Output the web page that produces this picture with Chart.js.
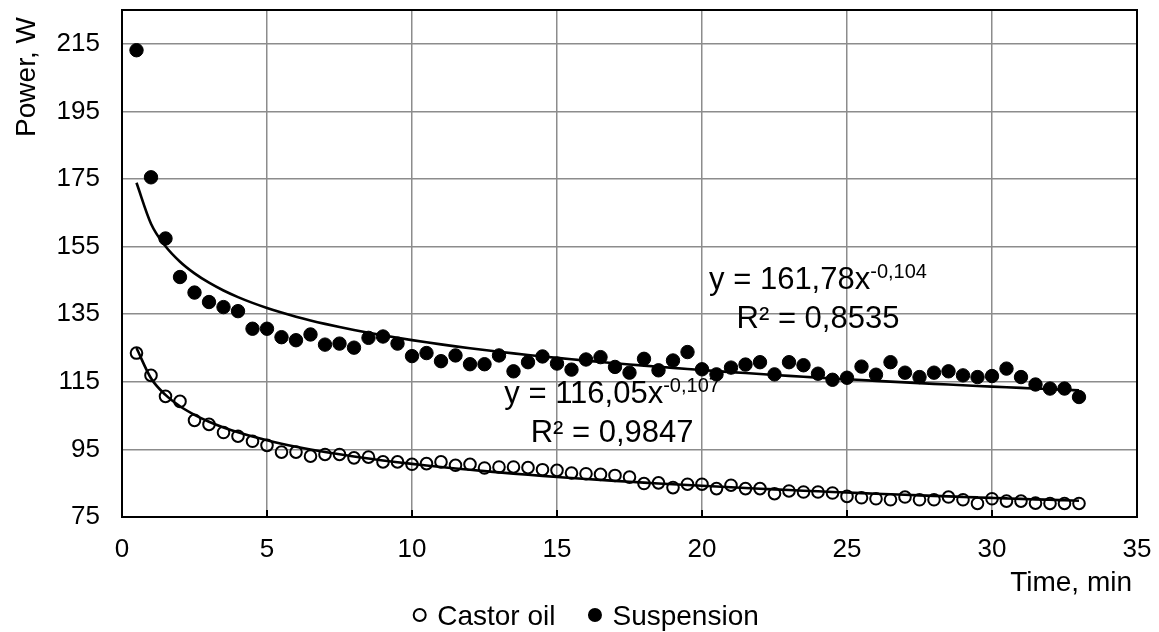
<!DOCTYPE html>
<html>
<head>
<meta charset="utf-8">
<script src="https://cdn.jsdelivr.net/npm/chart.js@4/dist/chart.umd.min.js"></script>
<style>
  html, body { margin: 0; padding: 0; background: #fff; }
  canvas { display: block; }
</style>
</head>
<body>
<canvas id="powerChart" width="1159" height="632"></canvas>
<script>
const timeMin = [0.5, 1, 1.5, 2, 2.5, 3, 3.5, 4, 4.5, 5, 5.5, 6, 6.5, 7, 7.5, 8, 8.5, 9, 9.5, 10,
  10.5, 11, 11.5, 12, 12.5, 13, 13.5, 14, 14.5, 15, 15.5, 16, 16.5, 17, 17.5, 18, 18.5, 19, 19.5, 20,
  20.5, 21, 21.5, 22, 22.5, 23, 23.5, 24, 24.5, 25, 25.5, 26, 26.5, 27, 27.5, 28, 28.5, 29, 29.5, 30,
  30.5, 31, 31.5, 32, 32.5, 33];

const castorOil = [123.5, 116.9, 110.7, 109.2, 103.6, 102.4, 100.0, 98.9, 97.4, 96.2,
  94.2, 94.2, 93.0, 93.5, 93.5, 92.5, 92.7, 91.3, 91.3, 90.6,
  90.8, 91.3, 90.3, 90.6, 89.5, 89.8, 89.8, 89.6, 89.0, 88.8,
  88.0, 87.8, 87.6, 87.3, 86.8, 84.9, 85.1, 83.7, 84.7, 84.7,
  83.4, 84.4, 83.4, 83.4, 81.9, 82.7, 82.4, 82.4, 82.1, 81.1,
  80.7, 80.4, 80.1, 80.9, 80.1, 80.1, 80.9, 80.1, 79.0, 80.4,
  79.7, 79.7, 79.1, 79.0, 79.0, 79.0];

const suspension = [213.1, 175.5, 157.4, 146.0, 141.4, 138.6, 137.1, 135.9, 130.7, 130.7,
  128.2, 127.3, 129.0, 126.0, 126.3, 125.1, 128.0, 128.4, 126.3, 122.6,
  123.5, 121.1, 122.8, 120.2, 120.2, 122.8, 118.1, 120.8, 122.5, 120.4,
  118.6, 121.6, 122.3, 119.4, 117.7, 121.8, 118.4, 121.3, 123.8, 118.7,
  117.2, 119.2, 120.1, 120.8, 117.2, 120.8, 119.9, 117.4, 115.6, 116.2,
  119.5, 117.1, 120.8, 117.7, 116.4, 117.7, 118.1, 116.9, 116.4, 116.7,
  118.9, 116.4, 114.2, 113.0, 113.0, 110.5];

const xTicks = [0, 5, 10, 15, 20, 25, 30, 35];
const yTicks = [75, 95, 115, 135, 155, 175, 195, 215];

// power trendlines y = a * x^b, as printed on the chart
const castorFit = { a: 116.05, b: -0.107 };
const suspensionFit = { a: 161.78, b: -0.104 };
const castorEq = ['y = 116,05x', '-0,107', 'R\u00b2 = 0,9847'];
const suspensionEq = ['y = 161,78x', '-0,104', 'R\u00b2 = 0,8535'];

const FONT = "'Liberation Sans', Arial, sans-serif";

function trend(fit) {
    return timeMin.map(t => ({ x: t, y: fit.a * Math.pow(t, fit.b) }));
}

function points(values) {
    return timeMin.map((t, i) => ({ x: t, y: values[i] }));
}

function noEdgePadding(s) {
    s.paddingTop = 0;
    s.paddingBottom = 0;
    s.paddingLeft = 0;
    s.paddingRight = 0;
}

const labelsPlugin = {
    id: 'excelLook',
    beforeDatasetsDraw(chart) {
        const { ctx, chartArea: a, scales } = chart;
        ctx.save();
        // inner tick marks on the x axis
        ctx.strokeStyle = '#000';
        ctx.lineWidth = 2;
        xTicks.forEach(v => {
            const px = scales.x.getPixelForValue(v);
            ctx.beginPath();
            ctx.moveTo(px, a.bottom);
            ctx.lineTo(px, a.bottom - 7);
            ctx.stroke();
        });
        ctx.strokeRect(a.left, a.top, a.right - a.left, a.bottom - a.top);
        ctx.restore();
    },
    afterDraw(chart) {
        const { ctx, scales } = chart;
        ctx.save();
        ctx.fillStyle = '#000';

        // axis titles
        ctx.font = `28px ${FONT}`;
        ctx.textBaseline = 'alphabetic';
        ctx.textAlign = 'right';
        ctx.fillText('Time, min', 1132, 591);
        ctx.save();
        ctx.translate(35, 77);
        ctx.rotate(-Math.PI / 2);
        ctx.textAlign = 'center';
        ctx.fillText('Power, W', 0, 0);
        ctx.restore();

        // trendline equations
        const drawEq = (eq, cx, y1, y2) => {
            const px = scales.x.getPixelForValue(cx);
            const b1 = scales.y.getPixelForValue(y1);
            const b2 = scales.y.getPixelForValue(y2);
            ctx.textAlign = 'left';
            ctx.font = `31px ${FONT}`;
            const w1 = ctx.measureText(eq[0]).width;
            ctx.font = `20px ${FONT}`;
            const ws = ctx.measureText(eq[1]).width;
            const x0 = px - (w1 + ws) / 2;
            ctx.font = `31px ${FONT}`;
            ctx.fillText(eq[0], x0, b1);
            ctx.font = `20px ${FONT}`;
            ctx.fillText(eq[1], x0 + w1, b1 - 11);
            ctx.font = `31px ${FONT}`;
            ctx.textAlign = 'center';
            ctx.fillText(eq[2], px, b2);
        };
        drawEq(suspensionEq, 24.0, 142.6, 130.8);
        drawEq(castorEq, 16.9, 108.6, 97.1);

        // legend
        ctx.font = `28px ${FONT}`;
        ctx.textAlign = 'left';
        const items = chart.data.datasets.filter(d => d.legend);
        const widths = items.map(d => ctx.measureText(d.label).width);
        const total = items.length * 24 + widths.reduce((s, w) => s + w, 0) + 33 * (items.length - 1);
        let x = 586 - total / 2;
        items.forEach((d, i) => {
            ctx.beginPath();
            ctx.arc(x + 6.5, 615, 6, 0, Math.PI * 2);
            ctx.lineWidth = 2;
            ctx.strokeStyle = '#000';
            if (d.pointBackgroundColor !== 'rgba(0,0,0,0)') {
                ctx.fillStyle = '#000';
                ctx.fill();
            }
            ctx.stroke();
            ctx.fillStyle = '#000';
            ctx.fillText(d.label, x + 24, 625);
            x += 24 + widths[i] + 33;
        });
        ctx.restore();
    }
};

new Chart(document.getElementById('powerChart'), {
    type: 'scatter',
    data: {
        datasets: [
            {
                label: 'Castor oil trend',
                data: trend(castorFit),
                showLine: true,
                cubicInterpolationMode: 'monotone',
                borderColor: '#000',
                borderWidth: 2.6,
                pointRadius: 0,
                order: 0
            },
            {
                label: 'Suspension trend',
                data: trend(suspensionFit),
                showLine: true,
                cubicInterpolationMode: 'monotone',
                borderColor: '#000',
                borderWidth: 2.6,
                pointRadius: 0,
                order: 0
            },
            {
                label: 'Castor oil',
                legend: true,
                data: points(castorOil),
                pointRadius: 5.8,
                pointBorderWidth: 2,
                pointBackgroundColor: 'rgba(0,0,0,0)',
                pointBorderColor: '#000',
                order: 1
            },
            {
                label: 'Suspension',
                legend: true,
                data: points(suspension),
                pointRadius: 6.7,
                pointBorderWidth: 1,
                pointBackgroundColor: '#000',
                pointBorderColor: '#000',
                order: 1
            }
        ]
    },
    options: {
        responsive: false,
        animation: false,
        layout: { padding: { top: 10, right: 22, bottom: 0, left: 0 } },
        plugins: { legend: { display: false }, tooltip: { enabled: false } },
        scales: {
            x: {
                type: 'linear',
                min: 0,
                max: 35,
                afterBuildTicks: s => { s.ticks = xTicks.map(v => ({ value: v })); },
                afterFit: s => { s.height = 115; noEdgePadding(s); },
                grid: { color: '#8c8c8c', lineWidth: 1.5, drawTicks: false },
                border: { display: false },
                ticks: { padding: 17, color: '#000', font: { family: FONT, size: 26 } }
            },
            y: {
                min: 75,
                max: 225,
                afterBuildTicks: s => { s.ticks = yTicks.map(v => ({ value: v })); },
                afterFit: s => { s.width = 122; noEdgePadding(s); },
                grid: { color: '#8c8c8c', lineWidth: 1.5, drawTicks: false },
                border: { display: false },
                ticks: { padding: 22, color: '#000', font: { family: FONT, size: 26 } }
            }
        }
    },
    plugins: [labelsPlugin]
});
</script>
</body>
</html>
